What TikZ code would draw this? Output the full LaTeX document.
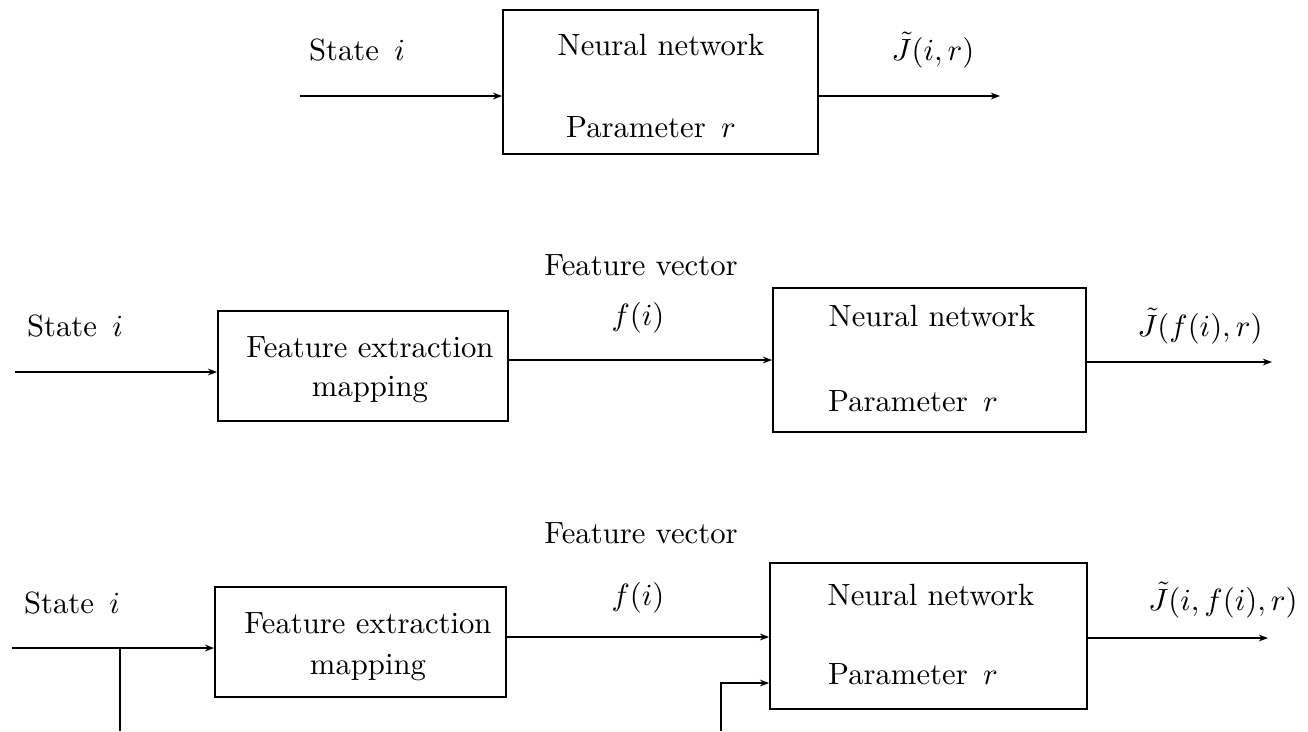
\documentclass[tikz,border=0pt]{standalone}
\usetikzlibrary{arrows.meta}
\begin{document}
\begin{tikzpicture}[x=0.3257pt,y=-0.3257pt,
  blk/.style={draw,line width=0.55pt,inner sep=0pt,rectangle},
  lbl/.style={inner sep=0pt,font=\normalsize},
  arr/.style={line width=0.55pt,-{Stealth[length=3pt,width=2.2pt]}},
  ln/.style={line width=0.55pt}]
\useasboundingbox (0,0) rectangle (1308,731);
% ---------- top row ----------
\node[blk,minimum width=315*0.3257pt,minimum height=144*0.3257pt] (nn1) at (660.5,82) {};
\node[lbl] (nn1a) at (661,45) {Neural network};
\node[lbl] (nn1b) at (651,127) {Parameter~\,$r$};
\node[lbl] (st1) at (357,50) {State~\,$i$};
\coordinate (in1) at (300,96);
\coordinate (out1) at (1000,96);
\node[lbl] (j1) at (933,50) {$\tilde J(i,r)$};
\draw[arr] (in1) -- (in1 -| nn1.west);
\draw[arr] (nn1.east |- out1) -- (out1);
% ---------- middle row ----------
\node[blk,minimum width=290*0.3257pt,minimum height=110*0.3257pt] (fe2) at (363,366) {};
\node[lbl] (fe2a) at (370,347) {Feature extraction};
\node[lbl] (fe2b) at (370,390) {mapping};
\node[lbl] (st2) at (75,326) {State~\,$i$};
\coordinate (in2) at (15,372);
\draw[arr] (in2) -- (in2 -| fe2.west);
\node[blk,minimum width=313*0.3257pt,minimum height=144*0.3257pt] (nn2) at (929.5,360) {};
\node[lbl] (nn2a) at (932,316) {Neural network};
\node[lbl] (nn2b) at (913,401) {Parameter~\,$r$};
\node[lbl] (fv2) at (641,265) {Feature vector};
\node[lbl] (f2) at (638,318) {$f(i)$};
\coordinate (m2) at (508,360);
\draw[arr] (fe2.east |- m2) -- (m2 -| nn2.west);
\coordinate (out2) at (1272,362);
\draw[arr] (nn2.east |- out2) -- (out2);
\node[lbl] (j2) at (1200,326) {$\tilde J(f(i),r)$};
% ---------- bottom row ----------
\node[blk,minimum width=291*0.3257pt,minimum height=110*0.3257pt] (fe3) at (360.5,642) {};
\node[lbl] (fe3a) at (368,623) {Feature extraction};
\node[lbl] (fe3b) at (368,668) {mapping};
\node[lbl] (st3) at (72,603) {State~\,$i$};
\coordinate (in3) at (12,648);
\coordinate (jn3) at (120,648);
\coordinate (bt3) at (120,731);
\draw[arr] (in3) -- (in3 -| fe3.west);
\draw[ln] (jn3) -- (bt3);
\node[blk,minimum width=317*0.3257pt,minimum height=146*0.3257pt] (nn3) at (928.5,636) {};
\node[lbl] (nn3a) at (931,595) {Neural network};
\node[lbl] (nn3b) at (913,674) {Parameter~\,$r$};
\node[lbl] (fv3) at (641,533) {Feature vector};
\node[lbl] (f3) at (638,598) {$f(i)$};
\coordinate (m3) at (506,637);
\draw[arr] (fe3.east |- m3) -- (m3 -| nn3.west);
\coordinate (b3) at (721,731);
\coordinate (k3) at (721,683);
\draw[arr] (b3) -- (k3) -- (k3 -| nn3.west);
\coordinate (out3) at (1268,638);
\draw[arr] (nn3.east |- out3) -- (out3);
\node[lbl] (j3) at (1223,600) {$\tilde J(i,f(i),r)$};
\end{tikzpicture}
\end{document}
